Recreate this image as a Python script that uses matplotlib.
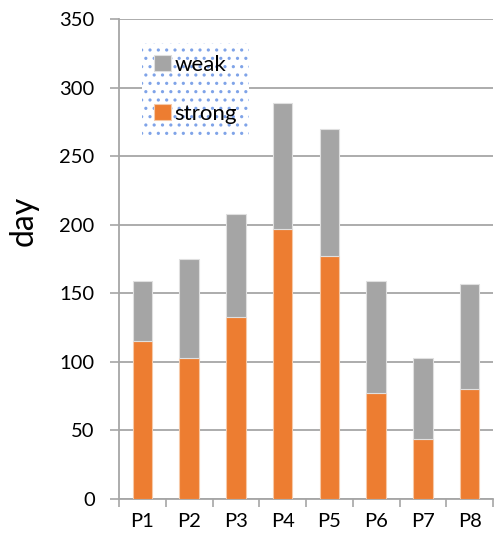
import numpy as np
import matplotlib
matplotlib.use("Agg")
import matplotlib.pyplot as plt

plt.rcParams['font.family'] = ['Lato', 'DejaVu Sans']
plt.rcParams['hatch.color'] = '#7fa3e8'
plt.rcParams['hatch.linewidth'] = 1.1

categories = ['P1', 'P2', 'P3', 'P4', 'P5', 'P6', 'P7', 'P8']
strong = [115, 103, 133, 197, 177, 77, 44, 80]
weak = [44, 72, 75, 92, 93, 82, 59, 77]

fig = plt.figure(figsize=(4.94, 5.46), dpi=100)
ax = fig.add_axes([0.241, 0.086, 0.757, 0.879])

x = np.arange(len(categories))
ax.bar(x, strong, width=0.42, color='#ED7D31', edgecolor='#f6c9a8', linewidth=0.8,
       label='strong', zorder=3)
ax.bar(x, weak, width=0.42, bottom=strong, color='#A5A5A5', edgecolor='#e0e0e0',
       linewidth=0.8, label='weak', zorder=3)

ax.set_xlim(-0.5, len(categories) - 0.5)
ax.set_ylim(0, 350)
ax.set_yticks(range(0, 351, 50))
ax.yaxis.grid(True, color='#a6a6a6', linewidth=1.3, zorder=0)

# tick marks between categories, labels centered
ax.set_xticks(np.arange(-0.5, len(categories), 1.0))
ax.set_xticklabels([])
ax.set_xticks(x, minor=True)
ax.set_xticklabels(categories, minor=True)
ax.tick_params(axis='x', which='major', length=5.5, color='#a6a6a6', width=1.2)
ax.tick_params(axis='x', which='minor', length=0, pad=10, labelsize=14.5)
ax.tick_params(axis='y', length=6.5, color='#a6a6a6', width=1.2, labelsize=14.5, pad=11)

for s in ['top', 'right']:
    ax.spines[s].set_visible(False)
for s in ['left', 'bottom']:
    ax.spines[s].set_color('#a6a6a6')
    ax.spines[s].set_linewidth(1.3)

ax.set_ylabel('day', fontsize=23)
ax.yaxis.set_label_coords(-0.215, 0.58)

handles, labels = ax.get_legend_handles_labels()
leg = ax.legend(handles[::-1], labels[::-1], loc='upper left',
                bbox_to_anchor=(0.05, 0.96), fontsize=16, frameon=True,
                fancybox=False, handlelength=0.75, handleheight=0.75,
                handletextpad=0.15, labelspacing=1.3, borderpad=0.55,
                borderaxespad=0.2)
frame = leg.get_frame()
frame.set_facecolor('white')
frame.set_hatch('..')
frame.set_edgecolor('#7fa3e8')
frame.set_linewidth(0)
frame.set_alpha(None)
leg.set_zorder(5)

fig.savefig('out.png', dpi=100)
